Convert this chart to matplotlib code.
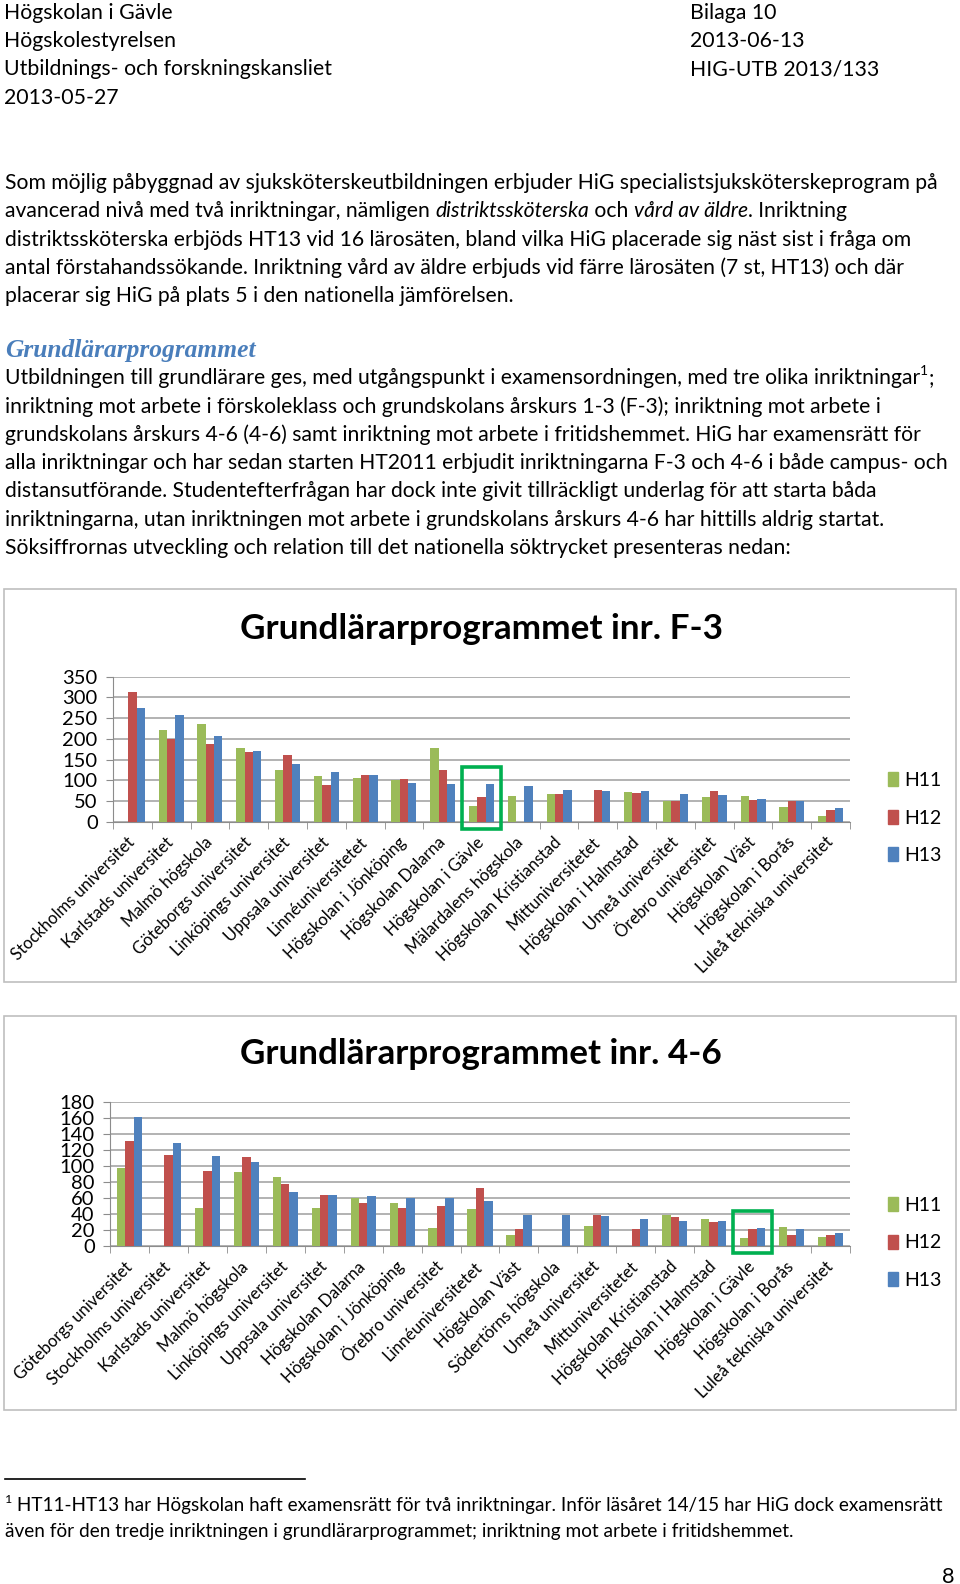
import matplotlib
matplotlib.use("Agg")
import matplotlib.pyplot as plt
from matplotlib.patches import Rectangle
from matplotlib.lines import Line2D
from matplotlib import font_manager
import numpy as np

W, H = 960, 1584

# ---- data ----
series = ["H11", "H12", "H13"]
colors = ["#9bbb59", "#c0504d", "#4f81bd"]

f3_schools = ["Stockholms universitet", "Karlstads universitet", "Malmö högskola",
              "Göteborgs universitet", "Linköpings universitet", "Uppsala universitet",
              "Linnéuniversitetet", "Högskolan i Jönköping", "Högskolan Dalarna",
              "Högskolan i Gävle", "Mälardalens högskola", "Högskolan Kristianstad",
              "Mittuniversitetet", "Högskolan i Halmstad", "Umeå universitet",
              "Örebro universitet", "Högskolan Väst", "Högskolan i Borås",
              "Luleå tekniska universitet"]
f3_h11 = [0, 222, 235, 178, 126, 110, 106, 101, 179, 39, 62, 68, 0, 71, 51, 60, 62, 35, 14]
f3_h12 = [312, 199, 188, 169, 160, 88, 113, 104, 126, 59, 0, 66, 76, 69, 51, 73, 52, 49, 28]
f3_h13 = [275, 257, 206, 171, 140, 121, 113, 93, 91, 91, 85, 77, 75, 73, 68, 64, 56, 49, 32]

g46_schools = ["Göteborgs universitet", "Stockholms universitet", "Karlstads universitet",
               "Malmö högskola", "Linköpings universitet", "Uppsala universitet",
               "Högskolan Dalarna", "Högskolan i Jönköping", "Örebro universitet",
               "Linnéuniversitetet", "Högskolan Väst", "Södertörns högskola",
               "Umeå universitet", "Mittuniversitetet", "Högskolan Kristianstad",
               "Högskolan i Halmstad", "Högskolan i Gävle", "Högskolan i Borås",
               "Luleå tekniska universitet"]
g46_h11 = [97, 0, 48, 92, 86, 48, 60, 54, 23, 46, 14, 0, 25, 0, 39, 34, 10, 24, 12]
g46_h12 = [131, 114, 94, 111, 78, 64, 54, 48, 50, 72, 21, 0, 39, 21, 37, 30, 21, 14, 14]
g46_h13 = [161, 129, 112, 105, 68, 64, 62, 60, 60, 57, 39, 39, 38, 34, 32, 31, 23, 21, 16]

header_left = ["Högskolan i Gävle", "Högskolestyrelsen",
               "Utbildnings- och forskningskansliet", "2013-05-27"]
header_right = ["Bilaga 10", "2013-06-13", "HIG-UTB 2013/133"]

para1 = [
    [("Som möjlig påbyggnad av sjuksköterskeutbildningen erbjuder HiG specialistsjuksköterskeprogram på", "n")],
    [("avancerad nivå med två inriktningar, nämligen ", "n"), ("distriktssköterska", "i"),
     (" och ", "n"), ("vård av äldre", "i"), (". Inriktning", "n")],
    [("distriktssköterska erbjöds HT13 vid 16 lärosäten, bland vilka HiG placerade sig näst sist i fråga om", "n")],
    [("antal förstahandssökande. Inriktning vård av äldre erbjuds vid färre lärosäten (7 st, HT13) och där", "n")],
    [("placerar sig HiG på plats 5 i den nationella jämförelsen.", "n")],
]
para2 = [
    [("Utbildningen till grundlärare ges, med utgångspunkt i examensordningen, med tre olika inriktningar", "n"),
     ("1", "sup"), (";", "n")],
    [("inriktning mot arbete i förskoleklass och grundskolans årskurs 1-3 (F-3); inriktning mot arbete i", "n")],
    [("grundskolans årskurs 4-6 (4-6) samt inriktning mot arbete i fritidshemmet. HiG har examensrätt för", "n")],
    [("alla inriktningar och har sedan starten HT2011 erbjudit inriktningarna F-3 och 4-6 i både campus- och", "n")],
    [("distansutförande. Studentefterfrågan har dock inte givit tillräckligt underlag för att starta båda", "n")],
    [("inriktningarna, utan inriktningen mot arbete i grundskolans årskurs 4-6 har hittills aldrig startat.", "n")],
    [("Söksiffrornas utveckling och relation till det nationella söktrycket presenteras nedan:", "n")],
]
footnote = [
    [("1", "sup"), (" HT11-HT13 har Högskolan haft examensrätt för två inriktningar. Inför läsåret 14/15 har HiG dock examensrätt", "n")],
    [("även för den tredje inriktningen i grundlärarprogrammet; inriktning mot arbete i fritidshemmet.", "n")],
]

# ---- fonts ----
installed = {f.name for f in font_manager.fontManager.ttflist}
BODY = "Lato"
NARROW = "Liberation Sans Narrow" if "Liberation Sans Narrow" in installed else "Lato"
SERIF = "Liberation Serif"

fig = plt.figure(figsize=(W / 100, H / 100), dpi=100)
renderer = fig.canvas.get_renderer()


def fx(x):
    return x / W


def fy(y):
    return 1 - y / H


def text_width(s, **kw):
    t = fig.text(0, 0, s + "x", **kw)
    w1 = t.get_window_extent(renderer).width
    t.set_text("x")
    w2 = t.get_window_extent(renderer).width
    t.remove()
    return w1 - w2


def fit_size(s, target, **kw):
    return 20 * target / text_width(s, fontsize=20, **kw)


def draw_line(x, y, parts, size, family, color="black"):
    for s, kind in parts:
        kw = dict(fontsize=size, family=family, color=color)
        yy = y
        if kind == "i":
            kw["style"] = "italic"
        if kind == "sup":
            kw["fontsize"] = size * 0.65
            yy = y - size * 0.45
        fig.text(fx(x), fy(yy), s, va="center", ha="left", **kw)
        x += text_width(s, **kw)


# ---- header ----
hsize = fit_size(header_left[2], 327, family=NARROW)
for i, s in enumerate(header_left):
    fig.text(fx(4), fy(13 + 28.2 * i), s, fontsize=hsize, family=NARROW, va="center")
for i, s in enumerate(header_right):
    fig.text(fx(690), fy(13 + 28.2 * i), s, fontsize=hsize, family=NARROW, va="center")

# ---- body text ----
bsize = fit_size(para2[3][0][0], 945, family=BODY)
for i, parts in enumerate(para1):
    draw_line(5, 183 + 28.3 * i, parts, bsize, BODY)

hd_size = fit_size("Grundlärarprogrammet", 251, family=SERIF, weight="bold", style="italic")
fig.text(fx(5), fy(350), "Grundlärarprogrammet", fontsize=hd_size, family=SERIF,
         weight="bold", style="italic", color="#4a7ebb", va="center")
for i, parts in enumerate(para2):
    draw_line(5, 378 + 28.3 * i, parts, bsize, BODY)


# ---- charts ----
def chart(box_top, box_bottom, ax_left, ax_top, ax_bottom, ymax, ystep,
          title, schools, values, title_y, legend_y):
    fig.patches.append(Rectangle((fx(4), fy(box_bottom)), fx(952), (box_bottom - box_top) / H,
                                 transform=fig.transFigure, fill=False,
                                 edgecolor="#bfbfbf", lw=1.2))
    tsize = fit_size(title, 482, family=BODY, weight="bold")
    fig.text(fx(481), fy(title_y), title, fontsize=tsize, family=BODY, weight="bold",
             ha="center", va="center")
    ax = fig.add_axes([fx(ax_left), fy(ax_bottom), fx(850 - ax_left),
                       (ax_bottom - ax_top) / H])
    n = len(schools)
    x = np.arange(n)
    bw = 0.215
    for k, (vals, c, lab) in enumerate(zip(values, colors, series)):
        ax.bar(x + (k - 1) * bw, vals, width=bw, color=c, label=lab, linewidth=0, zorder=3)
    ax.set_xlim(-0.5, n - 0.5)
    ax.set_ylim(0, ymax)
    ax.set_yticks(np.arange(0, ymax + 1, ystep))
    ax.yaxis.grid(True, color="#a6a6a6", lw=1.2, zorder=0)
    for side in ["top", "right"]:
        ax.spines[side].set_visible(False)
    for side in ["left", "bottom"]:
        ax.spines[side].set_color("#8c8c8c")
    ax.set_xticks(x)
    ax.set_xticklabels(schools, rotation=45, ha="right", va="center",
                       rotation_mode="anchor", fontsize=12, family=BODY)
    ax.tick_params(axis="x", length=0, pad=13)
    ax.set_xticks(np.arange(-0.5, n, 1), minor=True)
    ax.tick_params(axis="x", which="minor", length=5, color="#8c8c8c", direction="out")
    ax.tick_params(axis="y", length=5, color="#8c8c8c", labelsize=14.5, pad=6)
    for lb in ax.get_yticklabels():
        lb.set_family(BODY)

    # green frame around Gävle
    gi = schools.index("Högskolan i Gävle")
    top = max(v[gi] for v in values)
    span = ymax / ((ax_bottom - ax_top))
    ax.add_patch(Rectangle((gi - 0.5, -7 * span), 1.0, top + 24 * span,
                           fill=False, edgecolor="#00b050", lw=2.6, clip_on=False,
                           zorder=5))

    handles = [Rectangle((0, 0), 1, 1, color=c) for c in colors]
    fig.legend(handles, series, loc="center left", frameon=False,
               bbox_to_anchor=(fx(870), fy(legend_y)), prop={"family": BODY, "size": 14},
               handlelength=0.55, handleheight=0.7, handletextpad=0.3, labelspacing=1.05)
    return ax


chart(589, 982, 113, 676.7, 821.7, 350, 50, "Grundlärarprogrammet inr. F-3",
      f3_schools, [f3_h11, f3_h12, f3_h13], 629, 818)
chart(1016, 1410, 110, 1101.7, 1246.3, 180, 20, "Grundlärarprogrammet inr. 4-6",
      g46_schools, [g46_h11, g46_h12, g46_h13], 1054, 1243)

# ---- footnote ----
fig.add_artist(Line2D([fx(5), fx(305)], [fy(1479), fy(1479)], color="black", lw=1.2))
fsize = fit_size(footnote[0][1][0], 931, family=NARROW)
draw_line(5, 1506, footnote[0], fsize, NARROW)
draw_line(5, 1531, footnote[1], fsize, NARROW)
fig.text(fx(955), fy(1577), "8", fontsize=fsize * 1.15, family=NARROW, ha="right", va="center")

fig.savefig("out.png", dpi=100)
